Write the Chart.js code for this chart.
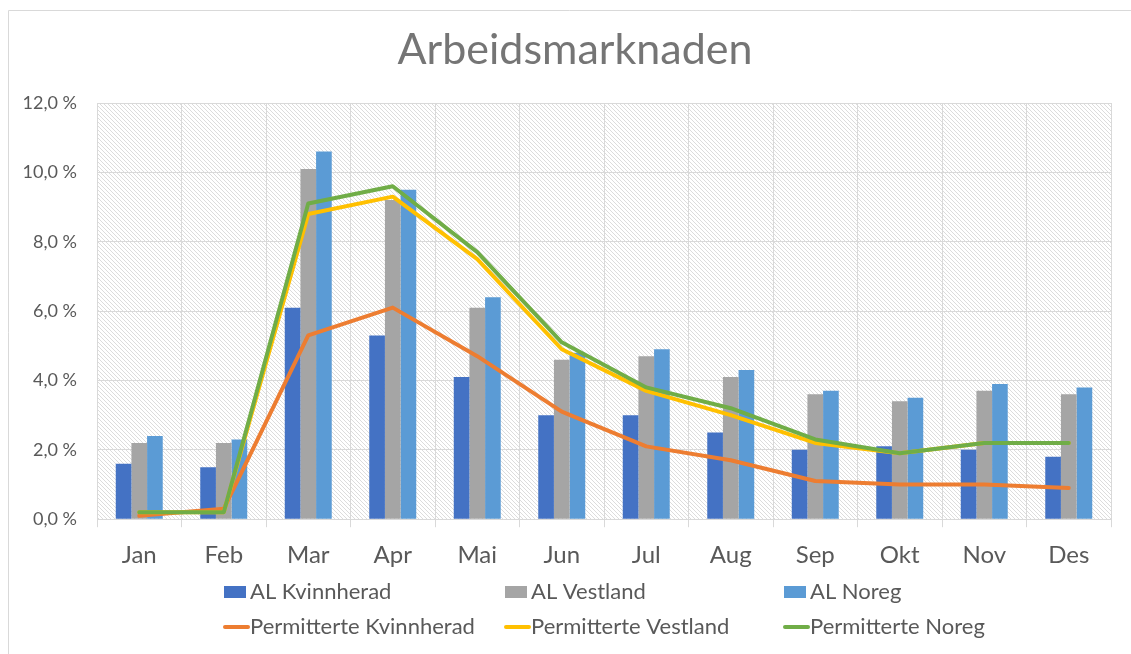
<!DOCTYPE html>
<html>
<head>
<meta charset="utf-8">
<script src="https://cdn.jsdelivr.net/npm/chart.js@4.4.1/dist/chart.umd.min.js"></script>
<style>
  html, body { margin: 0; padding: 0; background: #fff; overflow: hidden; }
  #wrap { position: relative; width: 1131px; height: 654px; }
</style>
</head>
<body>
<div id="wrap"><canvas id="chart" width="1131" height="654"></canvas></div>
<script>
const months = ["Jan", "Feb", "Mar", "Apr", "Mai", "Jun", "Jul", "Aug", "Sep", "Okt", "Nov", "Des"];

// Arbeidsledige, prosent
const alKvinnherad = [1.6, 1.5, 6.1, 5.3, 4.1, 3.0, 3.0, 2.5, 2.0, 2.1, 2.0, 1.8];
const alVestland = [2.2, 2.2, 10.1, 9.2, 6.1, 4.6, 4.7, 4.1, 3.6, 3.4, 3.7, 3.6];
const alNoreg = [2.4, 2.3, 10.6, 9.5, 6.4, 4.8, 4.9, 4.3, 3.7, 3.5, 3.9, 3.8];

// Permitterte, prosent
const permKvinnherad = [0.1, 0.3, 5.3, 6.1, 4.7, 3.1, 2.1, 1.7, 1.1, 1.0, 1.0, 0.9];
const permVestland = [0.2, 0.2, 8.8, 9.3, 7.5, 4.9, 3.7, 3.0, 2.2, 1.9, 2.2, 2.2];
const permNoreg = [0.2, 0.2, 9.1, 9.6, 7.7, 5.1, 3.8, 3.2, 2.3, 1.9, 2.2, 2.2];

const yTicks = [0, 2, 4, 6, 8, 10, 12];

const chartTitle = "Arbeidsmarknaden";
const textColor = "#595959";
const gridColor = "#d9d9d9";
const fontFamily = "Lato, 'Open Sans', sans-serif";

Chart.defaults.font.family = fontFamily;

const bar = (label, data, color) => ({
  type: "bar",
  label,
  data,
  backgroundColor: color,
  borderWidth: 0,
  categoryPercentage: 0.556,
  barPercentage: 1.0,
  order: 10,
});

const line = (label, data, color, order) => ({
  type: "line",
  label,
  data,
  borderColor: color,
  backgroundColor: color,
  borderWidth: 4,
  pointRadius: 0,
  tension: 0,
  fill: false,
  borderJoinStyle: "round",
  borderCapStyle: "round",
  order,
});

// hatched plot background, outer frame and the title
const backdrop = {
  id: "backdrop",
  beforeDraw(chart) {
    const { ctx, chartArea: a } = chart;
    const tile = document.createElement("canvas");
    tile.width = 4;
    tile.height = 4;
    const t = tile.getContext("2d");
    t.fillStyle = "#ffffff";
    t.fillRect(0, 0, 4, 4);
    t.fillStyle = "#dcdcdc";
    for (let i = 0; i < 4; i++) t.fillRect(i, i, 1, 1);
    ctx.save();
    ctx.fillStyle = ctx.createPattern(tile, "repeat");
    ctx.fillRect(a.left, a.top, a.right - a.left, a.bottom - a.top);
    ctx.strokeStyle = gridColor;
    ctx.lineWidth = 1;
    ctx.beginPath();
    ctx.moveTo(8.5, chart.height);
    ctx.lineTo(8.5, 10.5);
    ctx.lineTo(chart.width, 10.5);
    ctx.stroke();

    ctx.fillStyle = "#757575";
    ctx.font = "43px " + fontFamily;
    ctx.textAlign = "center";
    ctx.textBaseline = "middle";
    ctx.fillText(chartTitle, 575, 50);
    ctx.restore();
  },
};

// legend in a 3 x 2 grid, like the spreadsheet
const gridLegend = {
  id: "gridLegend",
  afterDraw(chart) {
    const { ctx } = chart;
    const cols = [224, 505, 784];
    const rows = [592, 627];
    ctx.save();
    ctx.font = "22px " + fontFamily;
    ctx.textBaseline = "middle";
    chart.data.datasets.forEach((ds, i) => {
      const x = cols[i % 3];
      const y = rows[Math.floor(i / 3)];
      if (ds.type === "bar") {
        ctx.fillStyle = ds.backgroundColor;
        ctx.fillRect(x, y - 6, 22, 12);
      } else {
        ctx.strokeStyle = ds.borderColor;
        ctx.lineWidth = 4;
        ctx.lineCap = "round";
        ctx.beginPath();
        ctx.moveTo(x + 1, y);
        ctx.lineTo(x + 24, y);
        ctx.stroke();
      }
      ctx.fillStyle = textColor;
      ctx.fillText(ds.label, x + 26, y);
    });
    ctx.restore();
  },
};

new Chart(document.getElementById("chart").getContext("2d"), {
  data: {
    labels: months,
    datasets: [
      bar("AL Kvinnherad", alKvinnherad, "#4472C4"),
      bar("AL Vestland", alVestland, "#A5A5A5"),
      bar("AL Noreg", alNoreg, "#5B9BD5"),
      line("Permitterte Kvinnherad", permKvinnherad, "#ED7D31", 3),
      line("Permitterte Vestland", permVestland, "#FFC000", 2),
      line("Permitterte Noreg", permNoreg, "#70AD47", 1),
    ],
  },
  options: {
    responsive: false,
    animation: false,
    layout: {
      padding: { left: 20, right: 20, top: 103, bottom: 70 },
    },
    plugins: {
      legend: { display: false },
      tooltip: { enabled: false },
      title: { display: false },
    },
    scales: {
      x: {
        grid: {
          offset: true,
          color: gridColor,
          tickLength: 8,
        },
        border: { color: gridColor },
        ticks: {
          color: textColor,
          font: { size: 24 },
          padding: 14,
        },
      },
      y: {
        min: 0,
        max: 12,
        afterBuildTicks: (scale) => {
          scale.ticks = yTicks.map((v) => ({ value: v }));
        },
        afterFit: (scale) => {
          scale.width = 77;
        },
        grid: {
          color: gridColor,
          drawTicks: false,
        },
        border: { display: false },
        ticks: {
          color: textColor,
          font: { size: 18 },
          padding: 20,
          callback: (v) => v.toFixed(1).replace(".", ",") + " %",
        },
      },
    },
  },
  plugins: [backdrop, gridLegend],
});
</script>
</body>
</html>
